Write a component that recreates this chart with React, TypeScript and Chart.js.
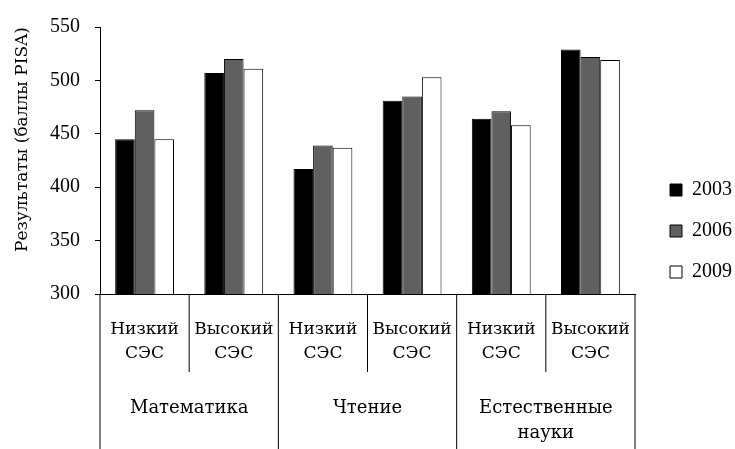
import React, { useEffect, useRef } from "react";
import { Chart, registerables } from "chart.js";

Chart.register(...registerables);

const subCategories: string[][] = [
  ["Низкий", "СЭС"],
  ["Высокий", "СЭС"],
  ["Низкий", "СЭС"],
  ["Высокий", "СЭС"],
  ["Низкий", "СЭС"],
  ["Высокий", "СЭС"],
];
const groupLabels: string[][] = [["Математика"], ["Чтение"], ["Естественные", "науки"]];
const seriesNames = ["2003", "2006", "2009"];
const values2003 = [445, 507, 417, 481, 464, 529];
const values2006 = [472, 520, 439, 485, 471, 522];
const values2009 = [445, 511, 437, 503, 458, 519];
const yTitle = "Результаты (баллы PISA)";
const yMin = 300;
const yMax = 550;
const yStep = 50;

const FONT = "'Liberation Serif', serif";
const CYR_FONT = "'DejaVu Serif', serif";
const TICK_SIZE = 17;
const GROUP_SIZE = 18;

const groupPlugin = {
  id: "groupAxis",
  afterLayout(chart: any) {
    if (chart.legend) {
      chart.legend.left += 14;
      chart.legend.right += 14;
    }
  },
  afterDraw(chart: any) {
    const ctx = chart.ctx;
    const xs = chart.scales.x;
    const axisY = chart.chartArea.bottom;
    const n = subCategories.length;
    const w = xs.getPixelForValue(1) - xs.getPixelForValue(0);
    ctx.save();
    ctx.strokeStyle = "#000";
    ctx.lineWidth = 1;
    for (let k = 0; k <= n; k++) {
      const px = xs.getPixelForValue(k) - w / 2;
      const bottom = k % 2 === 0 ? chart.height : axisY + 78;
      ctx.beginPath();
      ctx.moveTo(px, axisY);
      ctx.lineTo(px, bottom);
      ctx.stroke();
    }
    ctx.fillStyle = "#000";
    ctx.font = GROUP_SIZE + "px " + CYR_FONT;
    ctx.textAlign = "center";
    ctx.textBaseline = "middle";
    groupLabels.forEach((lines, g) => {
      const cx = (xs.getPixelForValue(2 * g) + xs.getPixelForValue(2 * g + 1)) / 2;
      lines.forEach((t, i) => {
        ctx.fillText(t, cx, axisY + 114.5 + i * 25);
      });
    });
    ctx.restore();
  },
};

export default function App() {
  const ref = useRef<HTMLCanvasElement>(null);
  useEffect(() => {
    if (!ref.current) return;
    const chart = new Chart(ref.current, {
      type: "bar",
      data: {
        labels: subCategories,
        datasets: [
          {
            label: seriesNames[0],
            data: values2003,
            backgroundColor: "#000000",
            borderColor: "#000000",
            borderWidth: 1,
          },
          {
            label: seriesNames[1],
            data: values2006,
            backgroundColor: "#606060",
            borderColor: "#000000",
            borderWidth: 1,
          },
          {
            label: seriesNames[2],
            data: values2009,
            backgroundColor: "#ffffff",
            borderColor: "#000000",
            borderWidth: 1,
          },
        ],
      },
      plugins: [groupPlugin],
      options: {
        responsive: false,
        animation: false,
        datasets: { bar: { categoryPercentage: 0.66, barPercentage: 1 } },
        layout: { padding: { top: 20, right: 7, bottom: 7, left: 0 } },
        plugins: {
          tooltip: { enabled: false },
          legend: {
            position: "right",
            labels: {
              boxWidth: 12,
              boxHeight: 12,
              padding: 21,
              color: "#000",
              font: { family: FONT, size: 20 },
            },
          },
        },
        scales: {
          x: {
            grid: { display: false, drawTicks: false },
            border: { display: true, color: "#000", width: 1 },
            ticks: {
              color: "#000",
              font: { family: CYR_FONT, size: TICK_SIZE, lineHeight: 24 / TICK_SIZE },
              padding: 24,
              autoSkip: false,
              maxRotation: 0,
              minRotation: 0,
            },
            afterFit(scale: any) {
              scale.height = 148;
            },
          },
          y: {
            min: yMin,
            max: yMax,
            grid: {
              display: true,
              drawOnChartArea: false,
              drawTicks: true,
              tickLength: 5,
              color: "#000",
            },
            border: { display: true, color: "#000", width: 1 },
            ticks: {
              stepSize: yStep,
              color: "#000",
              font: { family: FONT, size: 20 },
              padding: 15,
            },
            title: {
              display: true,
              text: yTitle,
              color: "#000",
              align: "end",
              font: { family: CYR_FONT, size: TICK_SIZE, lineHeight: 24 / TICK_SIZE },
              padding: { top: 11, bottom: 0 },
            },
            afterFit(scale: any) {
              scale.width = 100;
            },
          },
        },
      },
    } as any);
    return () => chart.destroy();
  }, []);
  return (
    <div style={{ position: "absolute", left: 0, top: 0, width: 735, height: 449 }}>
      <canvas ref={ref} width={735} height={449} style={{ width: 735, height: 449 }} />
    </div>
  );
}
